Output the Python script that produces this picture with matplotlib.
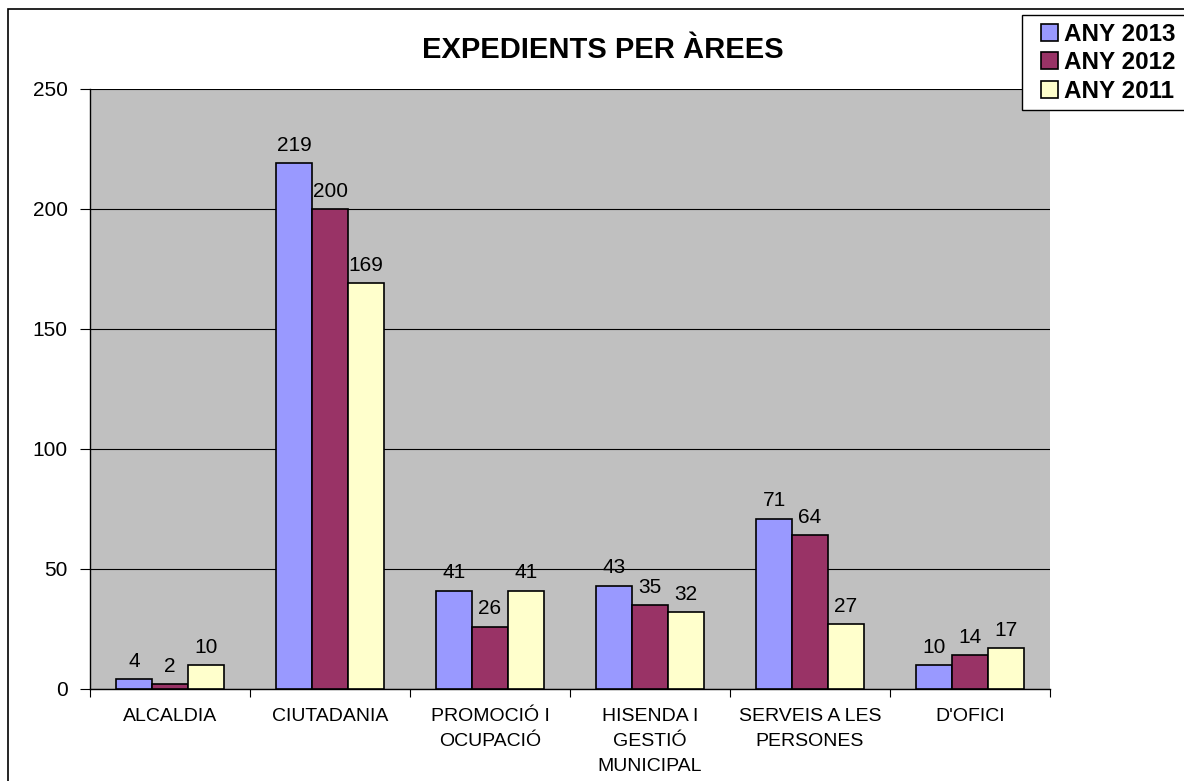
import matplotlib.pyplot as plt
import numpy as np
from matplotlib.patches import Rectangle

categories = ["ALCALDIA", "CIUTADANIA", "PROMOCIÓ I\nOCUPACIÓ",
              "HISENDA I\nGESTIÓ\nMUNICIPAL", "SERVEIS A LES\nPERSONES", "D'OFICI"]
series_names = ["ANY 2013", "ANY 2012", "ANY 2011"]
any_2013 = [4, 219, 41, 43, 71, 10]
any_2012 = [2, 200, 26, 35, 64, 14]
any_2011 = [10, 169, 41, 32, 27, 17]
colors = ["#9999FF", "#993366", "#FFFFCC"]

plt.rcParams["font.family"] = ["Liberation Sans", "DejaVu Sans"]

fig = plt.figure(figsize=(11.84, 7.81), dpi=100)
# outer chart frame (cropped on right/bottom)
fig.patches.append(Rectangle((8 / 1184, -0.05), 1.2, 1 - 9 / 781 + 0.05,
                             transform=fig.transFigure, fill=False,
                             edgecolor="black", linewidth=1.2))

ax = fig.add_axes([90 / 1184, 1 - 689 / 781, 960 / 1184, 600 / 781])
ax.set_facecolor("#C0C0C0")

x = np.arange(len(categories))
w = 0.225
for i, (vals, name) in enumerate(zip([any_2013, any_2012, any_2011], series_names)):
    bars = ax.bar(x + (i - 1) * w, vals, w, color=colors[i], edgecolor="black",
                  linewidth=1.2, label=name, zorder=3)
    for b, v in zip(bars, vals):
        ax.text(b.get_x() + b.get_width() / 2, v + 3.5, str(v), ha="center",
                va="bottom", fontsize=15, zorder=4)

ax.set_xlim(-0.5, len(categories) - 0.5)
ax.set_ylim(0, 250)
ax.set_yticks(range(0, 251, 50))
ax.yaxis.grid(True, color="black", linewidth=0.8, zorder=1)
ax.set_xticks(np.arange(-0.5, len(categories), 1))
ax.set_xticklabels([])
ax.set_xticks(x, minor=True)
ax.set_xticklabels(categories, minor=True, fontsize=14, linespacing=1.6)
ax.tick_params(axis="x", which="minor", length=0, pad=14)
ax.tick_params(axis="x", which="major", length=6, direction="out")
ax.tick_params(axis="y", length=7, labelsize=15, pad=9)
for s in ["top", "right"]:
    ax.spines[s].set_visible(False)
for s in ["left", "bottom"]:
    ax.spines[s].set_linewidth(1.0)

fig.text(603 / 1184, 1 - 50 / 781, "EXPEDIENTS PER ÀREES", ha="center",
         va="center", fontsize=21, fontweight="bold")

# legend box (extends past the right edge)
fig.patches.append(Rectangle((1022 / 1184, 1 - 110 / 781), 0.2, 95 / 781,
                             transform=fig.transFigure, facecolor="white",
                             edgecolor="black", linewidth=1.0))
leg = fig.legend(loc="upper left", bbox_to_anchor=(1036 / 1184, 1 - 18 / 781),
                 frameon=False, prop={"weight": "bold", "size": 17.5},
                 handlelength=0.7, handleheight=0.7, handletextpad=0.25,
                 borderpad=0.2, labelspacing=0.22, borderaxespad=0)

fig.savefig("out.png", dpi=100)
